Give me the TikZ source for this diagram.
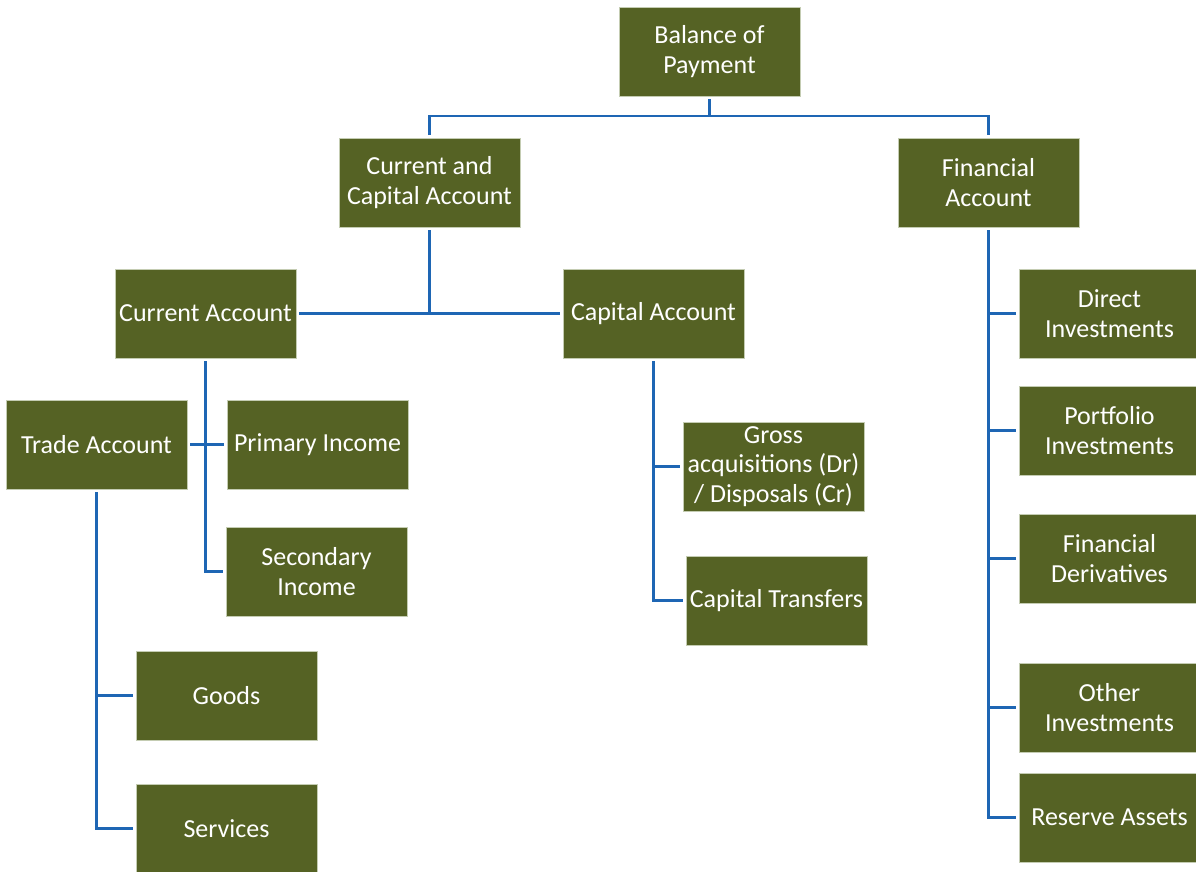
\documentclass[tikz,border=0pt]{standalone}
\usepackage{fontspec}
\setmainfont{Carlito}
\usepackage{tikz}
\usetikzlibrary{positioning}
\definecolor{boxgreen}{RGB}{85,98,36}
\definecolor{boxedge}{RGB}{196,204,178}
\definecolor{linkblue}{RGB}{30,102,180}

\begin{document}
\begin{tikzpicture}[x=1pt,y=1pt]
			\tikzstyle{every node}+=[inner sep=0pt]
			\tikzstyle{box}=[draw=boxedge, line width=0.8pt, fill=boxgreen, text=white,
				minimum width=181pt, minimum height=89pt, align=center, outer sep=3pt,
				font=\fontsize{26}{29.5}\selectfont]
			\tikzstyle{link}=[draw=linkblue, line width=2.8pt]
			\useasboundingbox (0,0) rectangle (1196,-871);
			% top levels
			\node [box] (bop) at (709.5,-51.5) {Balance of\\Payment};
			\node [box] (cca) at (429.5,-182.5) {Current and\\Capital Account};
			\node [box] (fa) at (988.5,-182.5) {Financial\\Account};
			\node [box] (ca) at (205.5,-313.5) {Current Account};
			\node [box] (kap) at (653.5,-313.5) {Capital Account};
			% current account parts
			\node [box] (ta) at (96.5,-444.5) {Trade Account};
			\node [box] (pi) at (317.5,-444.5) {Primary Income};
			\node [box] (si) at (316.5,-571.5) {Secondary\\Income};
			\node [box] (gd) at (226.5,-695.5) {Goods};
			\node [box] (sv) at (226.5,-828.5) {Services};
			% capital account parts
			\node [box] (gr) at (773.5,-466.5) {Gross\\acquisitions (Dr)\\/ Disposals (Cr)};
			\node [box] (ct) at (776.5,-600.5) {Capital Transfers};
			% financial account parts
			\node [box] (di) at (1109.5,-313.5) {Direct\\Investments};
			\node [box] (pf) at (1109.5,-430.5) {Portfolio\\Investments};
			\node [box] (fd) at (1109.5,-558.5) {Financial\\Derivatives};
			\node [box] (oi) at (1109.5,-707.5) {Other\\Investments};
			\node [box] (ra) at (1109.5,-817.5) {Reserve Assets};
			% connectors
			\coordinate (bj) at (709.5,-116);
			\draw [link] (bop) -- (bj);
			\draw [link] (cca) |- (bj) -| (fa);
			\draw [link] (cca) -- (cca |- ca);
			\draw [link] (ca) -- (kap);
			\draw [link] (ca) |- (si);
			\draw [link] (ta) -- (pi);
			\draw [link] (ta) |- (gd);
			\draw [link] (ta) |- (sv);
			\draw [link] (kap) |- (gr);
			\draw [link] (kap) |- (ct);
			\foreach \n in {di,pf,fd,oi,ra}
				\draw [link] (fa) |- (\n);
\end{tikzpicture}
\end{document}
